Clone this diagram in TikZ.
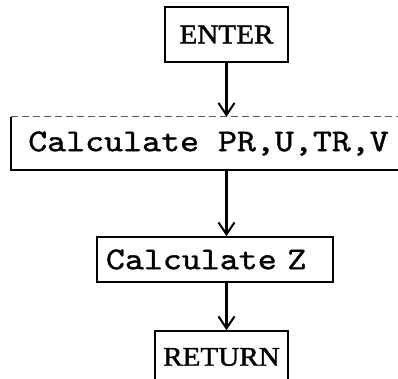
\documentclass[tikz,border=0pt]{standalone}
\usepackage{fontspec}
\setmainfont{Liberation Serif}
\newfontfamily\courierfont[FakeStretch=1.14,FakeBold=1.2]{lmmono10-regular.otf}
\newfontfamily\headfont[FakeStretch=1.08,FakeBold=1.5]{Liberation Serif}
\usetikzlibrary{arrows.meta,calc}
\begin{document}
\begin{tikzpicture}[x=1pt,y=1pt,
  termbox/.style={draw,line width=1.6pt,inner sep=0pt,font=\headfont\fontsize{27}{30}\selectfont},
  procbox/.style={inner sep=0pt,font=\courierfont\fontsize{31.7}{36}\selectfont},
  flow/.style={line width=2.4pt,-{Straight Barb[length=12pt,width=16pt,line width=2pt]}},
  edge/.style={line width=1.6pt}]
\useasboundingbox (0,0) rectangle (398,378);
\clip (0,0) rectangle (398,378);
% ENTER
\node[termbox,minimum width=123pt,minimum height=55pt] (enter) at (226.5,343.5) {ENTER};
% Calculate PR,U,TR,V (box open on the right)
\node[procbox,minimum width=395pt,minimum height=53pt] (calc) at (208.5,234.5) {Calculate PR,U,TR,V};
\draw[edge] ($(calc.north west)$) -- (calc.south west) -- ($(calc.south west)+(400,0)$);
\draw[line width=1.2pt,dash pattern=on 7pt off 4pt,gray!70!black] (calc.north west) -- ($(calc.north west)+(400,0)$);
% Calculate Z
\node[procbox,draw,line width=1.6pt,text width=218pt,align=left,inner xsep=9pt,minimum height=45pt] (calcz) at (215,118.5) {Calculate Z};
% RETURN
\node[termbox,minimum width=133pt,minimum height=52pt] (ret) at (221.5,21) {RETURN};
% connectors
\draw[flow] (enter.south) -- (enter.south |- calc.north);
\draw[flow] (enter.south |- calc.south) -- (enter.south |- calcz.north);
\draw[flow] (enter.south |- calcz.south) -- (enter.south |- ret.north);
\end{tikzpicture}
\end{document}
